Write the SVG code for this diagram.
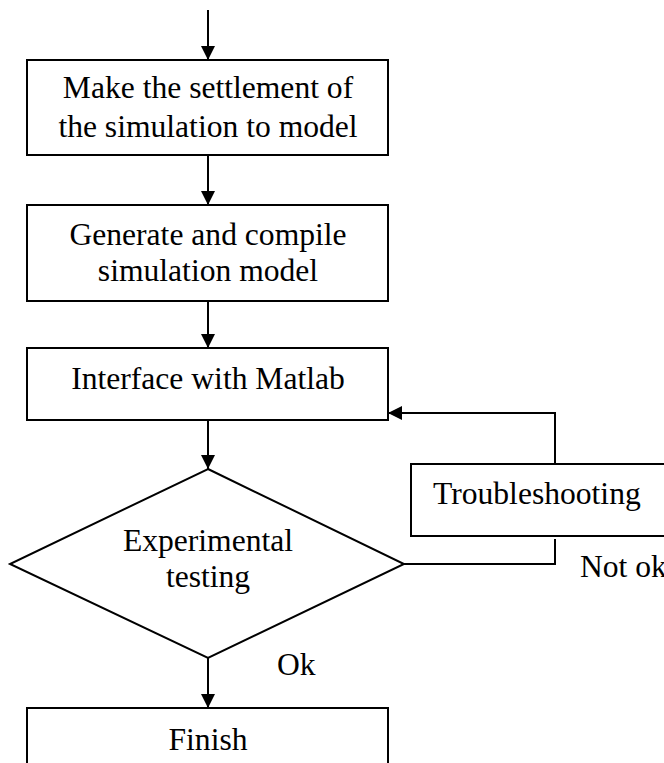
<svg xmlns="http://www.w3.org/2000/svg" width="664" height="763" viewBox="0 0 664 763">
<style>
.box{fill:#fff;stroke:#000;stroke-width:2}
.ln{fill:none;stroke:#000;stroke-width:2}
text{font-family:"Liberation Serif","Times New Roman",serif;font-size:31.6px;fill:#000}
.c{text-anchor:middle}
</style>
<defs>
<marker id="ah" markerWidth="16" markerHeight="14" refX="14" refY="7" orient="auto" markerUnits="userSpaceOnUse">
<path d="M0,0 L14,7 L0,14 Z" fill="#000"/>
</marker>
</defs>
<rect width="664" height="763" fill="#fff"/>
<g id="connectors">
<line class="ln" x1="208" y1="10" x2="208" y2="60" marker-end="url(#ah)"/>
<line class="ln" x1="208" y1="155" x2="208" y2="205" marker-end="url(#ah)"/>
<line class="ln" x1="208" y1="301" x2="208" y2="348" marker-end="url(#ah)"/>
<line class="ln" x1="208" y1="420" x2="208" y2="469" marker-end="url(#ah)"/>
<line class="ln" x1="208" y1="658" x2="208" y2="708" marker-end="url(#ah)"/>
<polyline class="ln" points="555,464 555,413 388,413" marker-end="url(#ah)"/>
<polyline class="ln" points="404,564 555,564 555,539"/>
</g>
<g id="n1">
<rect class="box" x="27" y="60" width="361" height="95"/>
<text class="c" x="208" y="98">Make the settlement of</text>
<text class="c" x="208" y="137">the simulation to model</text>
</g>
<g id="n2">
<rect class="box" x="27" y="205" width="361" height="96"/>
<text class="c" x="208" y="245">Generate and compile</text>
<text class="c" x="208" y="281">simulation model</text>
</g>
<g id="n3">
<rect class="box" x="27" y="348" width="361" height="72"/>
<text class="c" x="208" y="389">Interface with Matlab</text>
</g>
<g id="n4">
<polygon class="box" points="208,469 404,564 208,658 10,564"/>
<text class="c" x="208" y="551">Experimental</text>
<text class="c" x="208" y="587">testing</text>
</g>
<g id="n5">
<rect class="box" x="411" y="464" width="270" height="72"/>
<text x="433" y="504">Troubleshooting</text>
</g>
<g id="n6">
<rect class="box" x="27" y="708" width="361" height="80"/>
<text class="c" x="208" y="750">Finish</text>
</g>
<text x="277" y="675">Ok</text>
<text x="580" y="577">Not ok</text>
</svg>
